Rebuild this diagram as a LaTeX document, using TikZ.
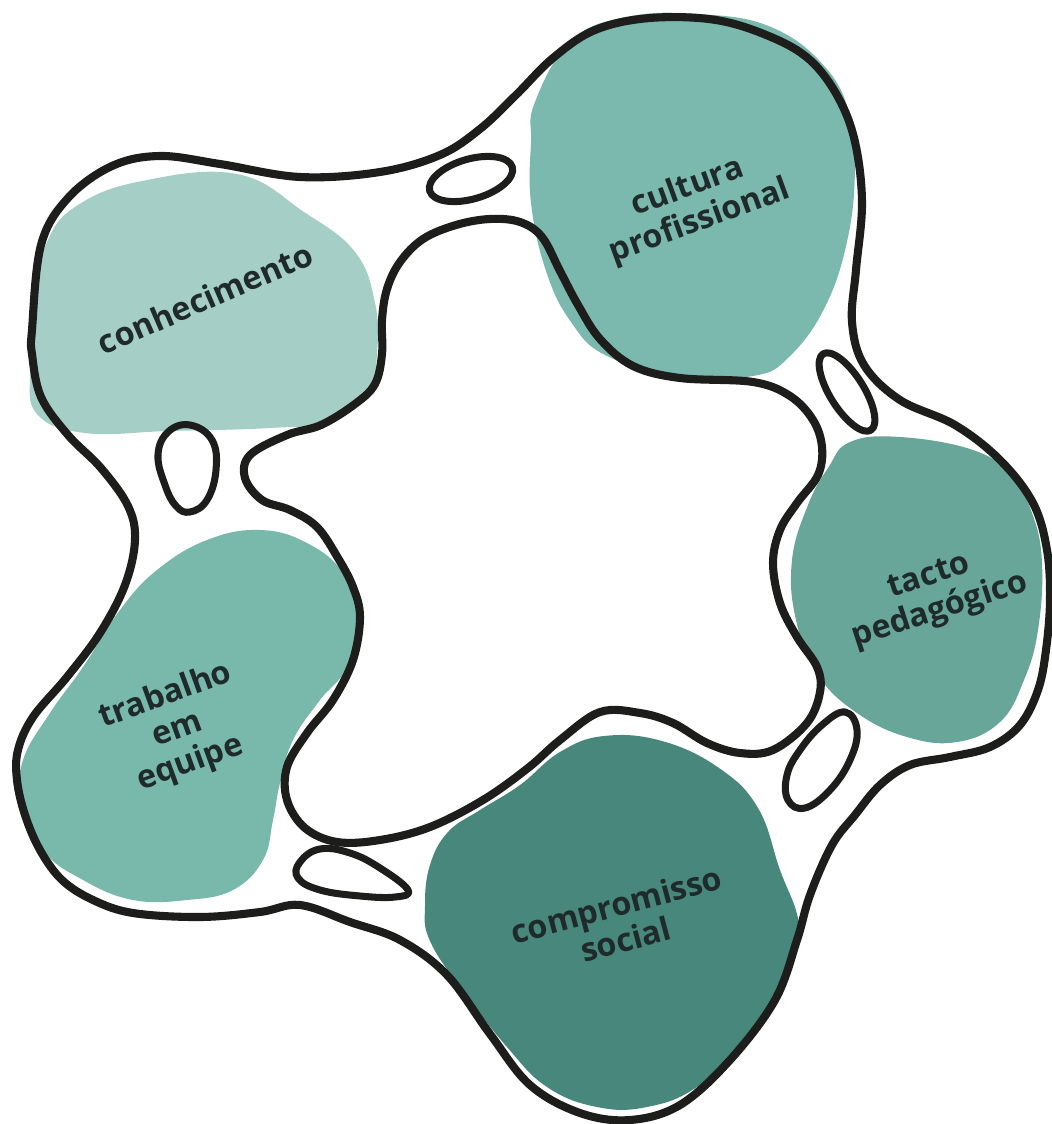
\documentclass[tikz,border=0pt]{standalone}
\usepackage{fontspec}
\setmainfont{Open Sans}
\usepackage{tikz}
\definecolor{knowfill}{HTML}{A5CEC6}
\definecolor{culturefill}{HTML}{7BB8AD}
\definecolor{tactfill}{HTML}{68A69A}
\definecolor{teamfill}{HTML}{79B9AC}
\definecolor{socialfill}{HTML}{48877B}
\definecolor{labelgray}{HTML}{1E2B2A}
\definecolor{inkblack}{HTML}{1D1D1B}
\tikzset{blob/.style={fill=#1, draw=none}}
\tikzset{ring line/.style={draw=inkblack, line width=2.3pt, line join=round, line cap=round}}
\tikzset{hole line/.style={ring line, line width=2pt}}
\tikzset{blob label/.style={text=labelgray, font=\bfseries\fontsize{9.2}{10.2}\selectfont, align=center, inner sep=0pt}}

\begin{document}
\begin{tikzpicture}
  [x=0.01cm, y=-0.01cm]
  \useasboundingbox (0,0) rectangle (1051,1124);

  % coloured blobs
  \fill [blob=knowfill] plot [smooth cycle, tension=0.7] coordinates {
    (142,181) (237,174) (304,212) (355,252) (375,303) (377,354) (368,391) (331,421)
    (270,428) (169,431) (85,433) (37,414) (30,370) (34,303) (47,242) (78,205)};
  \fill [blob=culturefill] plot [smooth cycle, tension=0.7] coordinates {
    (535,102) (571,41) (626,17) (698,14) (771,27) (826,68) (851,119) (855,169)
    (848,237) (826,305) (790,356) (753,376) (680,376) (607,356) (571,322) (546,271)
    (531,203) (531,142)};
  \fill [blob=tactfill] plot [smooth cycle, tension=0.7] coordinates {
    (850,442) (900,437) (973,450) (1010,475) (1032,513) (1042,563) (1038,630)
    (1024,680) (1000,722) (957,742) (907,737) (857,713) (818,675) (796,620) (792,560)
    (808,505) (828,468)};
  \fill [blob=teamfill] plot [smooth cycle, tension=0.7] coordinates {
    (260,530) (307,543) (343,573) (357,617) (347,667) (320,700) (293,740) (280,783)
    (273,820) (263,860) (233,890) (187,900) (133,900) (83,880) (43,850) (23,800)
    (23,760) (50,713) (83,667) (120,610) (157,570) (207,540)};
  \fill [blob=socialfill] plot [smooth cycle, tension=0.7] coordinates {
    (560,752) (604,736) (662,741) (719,768) (758,808) (780,870) (797,914) (797,941)
    (780,991) (747,1041) (697,1087) (647,1107) (597,1107) (547,1087) (507,1047)
    (463,991) (430,941) (425,905) (430,865) (448,832) (480,810) (520,785)};

  % outer and inner outline of the ring
  \draw [ring line] plot [smooth cycle, tension=0.6] coordinates {
    (32,330) (41,245) (68,198) (112,166) (160,156) (220,164) (300,177) (380,172)
    (440,155) (480,129) (516,95) (553,58) (595,30) (650,18) (716,20) (771,37)
    (810,60) (838,97) (855,142) (862,203) (856,270) (852,322) (864,365) (900,400)
    (955,425) (1000,460) (1033,503) (1047,550) (1050,600) (1046,650) (1038,690)
    (1020,725) (990,747) (950,757) (910,765) (880,785) (855,815) (832,845) (810,895)
    (797,940) (775,1000) (730,1060) (680,1105) (630,1120) (580,1113) (530,1085)
    (490,1034) (447,975) (400,940) (350,922) (300,905) (260,912) (200,917)
    (133,913) (93,900) (62,880) (40,850) (25,815) (17,780) (18,750) (33,717)
    (67,677) (100,633) (125,585) (135,540) (128,506) (101,468) (68,435) (41,397)
    (32,354)};
  \draw [ring line] plot [smooth cycle, tension=0.6] coordinates {
    (400,262) (423,239) (456,225) (490,219) (520,222) (542,237) (560,271) (578,305)
    (600,339) (633,366) (680,378) (753,382) (790,396) (813,420) (822,447) (818,475)
    (797,503) (780,530) (773,563) (780,603) (797,637) (817,667) (820,692) (807,723)
    (773,750) (740,753) (707,743) (673,723) (640,713) (600,712) (560,740) (528,768)
    (483,800) (430,827) (380,840) (337,842) (305,828) (287,800) (287,767) (307,733)
    (333,700) (353,660) (360,617) (353,587) (338,558) (317,527) (290,510) (262,500)
    (245,478) (250,455) (287,435) (321,425) (355,404) (375,384) (382,354) (382,320)
    (387,289)};

  % small holes between the blobs
  \draw [hole line, rotate around={16:(471,179)}] (471,179) ellipse [x radius=43, y radius=20];
  \draw [hole line] plot [smooth cycle, tension=0.7] coordinates {
    (190,425) (212,440) (216,470) (207,500) (190,512) (176,506) (165,485) (158,455) (168,432)};
  \draw [hole line, rotate around={-58:(847,392)}] (847,392) ellipse [x radius=45, y radius=17];
  \draw [hole line] plot [smooth cycle, tension=0.7] coordinates {
    (845,712) (857,730) (850,760) (830,790) (805,808) (788,800) (787,775) (800,750) (822,725)};
  \draw [hole line] plot [smooth cycle, tension=0.7] coordinates {
    (300,862) (320,849) (350,853) (380,868) (408,890) (395,897) (360,896) (320,890) (298,878)};

  % labels
  \node [blob label, rotate=23.5] (conhecimento) at (205,298) {conhecimento};
  \node [blob label, rotate=20]   (cultura)      at (694,205) {cultura\\profissional};
  \node [blob label, rotate=18]   (tacto)        at (935,595) {tacto\\pedagógico};
  \node [blob label, rotate=20]   (trabalho)     at (178,730) {trabalho\\em\\equipe};
  \node [blob label, rotate=15]   (compromisso)  at (621,922) {compromisso\\social};
\end{tikzpicture}
\end{document}
